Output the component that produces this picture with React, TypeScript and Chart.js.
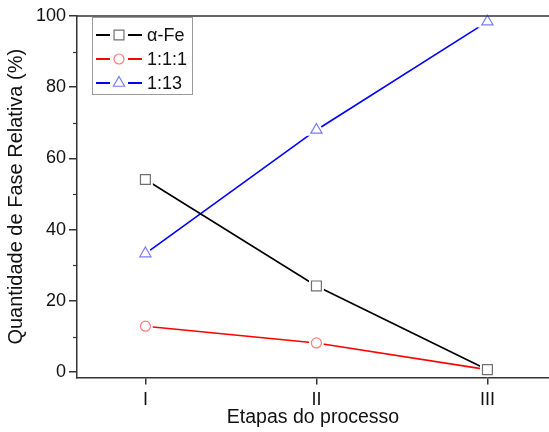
import React, { useEffect, useRef } from "react";
import { Chart, registerables } from "chart.js";

Chart.register(...registerables);

// Process stages on the x axis
const stagePositions = [1, 2, 3];
const stageLabels = ["I", "II", "III"];

// Relative phase amount (%) per stage
const alphaFe = [54.1, 24.2, 0.7];
const phase111 = [12.9, 8.2, 0.7];
const phase113 = [33.3, 68.0, 98.4];

// Axis ticks
const yMajorTicks = [0, 20, 40, 60, 80, 100];
const yMinorTicks = [10, 30, 50, 70, 90];

const FONT = "'Liberation Sans', Arial, sans-serif";
const AXIS_COLOR = "#333333";

type Series = {
  label: string;
  values: number[];
  lineColor: string;
  markerColor: string;
  pointStyle: "rect" | "circle" | "triangle";
  radius: number;
};

const series: Series[] = [
  { label: "α-Fe", values: alphaFe, lineColor: "#000000", markerColor: "#707070", pointStyle: "rect", radius: 7 },
  { label: "1:1:1", values: phase111, lineColor: "#ff0000", markerColor: "#ff7a7a", pointStyle: "circle", radius: 5 },
  { label: "1:13", values: phase113, lineColor: "#0000ff", markerColor: "#7a7aff", pointStyle: "triangle", radius: 6.5 },
];

function toPoints(values: number[]) {
  return values.map((y, i) => ({ x: stagePositions[i], y }));
}

function drawMarker(ctx: CanvasRenderingContext2D, style: string, x: number, y: number, r: number) {
  ctx.beginPath();
  if (style === "rect") {
    const s = Math.SQRT1_2 * r;
    ctx.rect(x - s, y - s, 2 * s, 2 * s);
  } else if (style === "circle") {
    ctx.arc(x, y, r, 0, Math.PI * 2);
  } else {
    ctx.moveTo(x, y - r);
    ctx.lineTo(x + r * Math.cos(Math.PI / 6), y + r / 2);
    ctx.lineTo(x - r * Math.cos(Math.PI / 6), y + r / 2);
    ctx.closePath();
  }
  ctx.fillStyle = "#ffffff";
  ctx.fill();
  ctx.stroke();
}

// Top frame line, minor y ticks and the boxed legend
const framePlugin = {
  id: "frameAndLegend",
  afterDraw(chart: any) {
    const ctx: CanvasRenderingContext2D = chart.ctx;
    const { left, right, top } = chart.chartArea;
    const yScale = chart.scales.y;
    ctx.save();
    ctx.strokeStyle = AXIS_COLOR;
    ctx.lineWidth = 1.5;
    ctx.beginPath();
    ctx.moveTo(left, top);
    ctx.lineTo(right, top);
    ctx.stroke();

    ctx.lineWidth = 1.2;
    yMinorTicks.forEach((v) => {
      const py = Math.round(yScale.getPixelForValue(v)) + 0.5;
      ctx.beginPath();
      ctx.moveTo(left - 4, py);
      ctx.lineTo(left, py);
      ctx.stroke();
    });

    // legend box
    const bx = 92.5, by = 17.5, bw = 100, bh = 77;
    ctx.strokeStyle = "#9a9a9a";
    ctx.lineWidth = 1;
    ctx.fillStyle = "#ffffff";
    ctx.fillRect(bx, by, bw, bh);
    ctx.strokeRect(bx, by, bw, bh);

    series.forEach((s, i) => {
      const cy = 35 + i * 24;
      const mx = 119;
      ctx.strokeStyle = s.lineColor;
      ctx.lineWidth = 2;
      ctx.beginPath();
      ctx.moveTo(96, cy);
      ctx.lineTo(mx - 9, cy);
      ctx.moveTo(mx + 9, cy);
      ctx.lineTo(142, cy);
      ctx.stroke();
      ctx.strokeStyle = s.markerColor;
      ctx.lineWidth = 1.2;
      drawMarker(ctx, s.pointStyle, mx, cy, s.radius);
      ctx.fillStyle = "#111111";
      ctx.font = `18px ${FONT}`;
      ctx.textAlign = "left";
      ctx.textBaseline = "middle";
      ctx.fillText(s.label, 147, cy + 1);
    });
    ctx.restore();
  },
};

export default function App() {
  const canvasRef = useRef<HTMLCanvasElement | null>(null);

  useEffect(() => {
    const canvas = canvasRef.current;
    if (!canvas) return;

    const datasets: any[] = [];
    series.forEach((s) => {
      // connecting line, with white halos that open a gap round each marker
      datasets.push({
        label: s.label + " line",
        data: toPoints(s.values),
        borderColor: s.lineColor,
        borderWidth: 1.6,
        pointStyle: s.pointStyle,
        pointRadius: s.radius,
        pointBorderWidth: 5,
        pointBorderColor: "#ffffff",
        pointBackgroundColor: "#ffffff",
        tension: 0,
        clip: false,
        order: 1,
      });
      // hollow markers
      datasets.push({
        label: s.label,
        data: toPoints(s.values),
        showLine: false,
        pointStyle: s.pointStyle,
        pointRadius: s.radius,
        pointBorderWidth: 1.2,
        pointBorderColor: s.markerColor,
        pointBackgroundColor: "#ffffff",
        clip: false,
        order: 0,
      });
    });

    const chart = new Chart(canvas, {
      type: "line",
      data: { datasets },
      plugins: [framePlugin],
      options: {
        animation: false,
        responsive: false,
        events: [],
        layout: { autoPadding: false, padding: { top: 16, left: 0, right: 0, bottom: 0 } },
        plugins: { legend: { display: false }, tooltip: { enabled: false } },
        scales: {
          x: {
            type: "linear",
            min: 0.6,
            max: 3.36,
            afterBuildTicks: (scale: any) => {
              scale.ticks = stagePositions.map((v) => ({ value: v }));
            },
            afterFit: (scale: any) => {
              scale.height = 54.5;
              scale.paddingLeft = 0;
              scale.paddingRight = 0;
            },
            ticks: {
              autoSkip: false,
              maxRotation: 0,
              padding: 5,
              color: "#111111",
              font: { family: FONT, size: 18 },
              callback: (v: any) => {
                const idx = stagePositions.indexOf(Number(v));
                return idx >= 0 ? stageLabels[idx] : "";
              },
            },
            grid: {
              display: true,
              drawOnChartArea: false,
              drawTicks: true,
              tickLength: 7,
              tickColor: AXIS_COLOR,
              lineWidth: 1.5,
            },
            border: { display: true, color: AXIS_COLOR, width: 1.5 },
            title: {
              display: true,
              text: "Etapas do processo",
              color: "#111111",
              font: { family: FONT, size: 19.5 },
              padding: { top: 0, bottom: 3 },
            },
          },
          y: {
            type: "linear",
            min: -1.5,
            max: 100,
            afterBuildTicks: (scale: any) => {
              scale.ticks = yMajorTicks.map((v) => ({ value: v }));
            },
            afterFit: (scale: any) => {
              scale.width = 77;
              scale.paddingTop = 0;
              scale.paddingBottom = 0;
            },
            ticks: {
              autoSkip: false,
              padding: 3,
              color: "#111111",
              font: { family: FONT, size: 18 },
            },
            grid: {
              display: true,
              drawOnChartArea: false,
              drawTicks: true,
              tickLength: 8,
              tickColor: AXIS_COLOR,
              lineWidth: 1.5,
            },
            border: { display: true, color: AXIS_COLOR, width: 1.5 },
            title: {
              display: true,
              text: "Quantidade de Fase Relativa (%)",
              color: "#111111",
              font: { family: FONT, size: 20 },
              padding: { top: 4, bottom: 0 },
            },
          },
        },
      },
    });

    return () => chart.destroy();
  }, []);

  return (
    <div style={{ position: "absolute", left: 0, top: 0, width: 549, height: 432, background: "#ffffff" }}>
      <canvas ref={canvasRef} width={549} height={432} style={{ display: "block" }} />
    </div>
  );
}
